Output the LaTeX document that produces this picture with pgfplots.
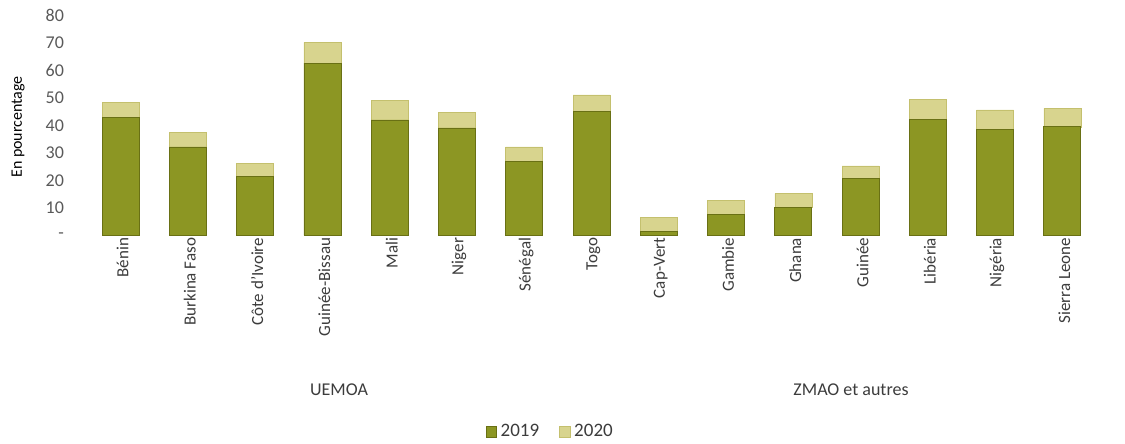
\documentclass[border=0pt]{standalone}
\usepackage{pgfplots}
\usepackage{pgfplotstable}
\pgfplotsset{compat=1.18}
\usepackage{fontspec}
\setmainfont{Carlito}
\definecolor{c2019}{RGB}{140,150,35}
\definecolor{c2019e}{RGB}{105,112,20}
\definecolor{c2020}{RGB}{216,212,142}
\definecolor{c2020e}{RGB}{196,192,110}
\definecolor{tickgray}{RGB}{89,89,89}
\definecolor{labgray}{RGB}{60,60,60}
\pgfplotstableread{
x a b
0 43.0 5.3
1 32.2 5.3
2 21.6 4.6
3 62.7 7.5
4 42.0 7.0
5 39.1 5.7
6 27.0 5.2
7 45.1 6.0
8 1.6 5.1
9 7.6 5.2
10 10.1 5.1
11 20.7 4.6
12 42.3 7.2
13 38.6 7.1
14 39.5 6.7
}\datatable
\begin{document}
\begin{tikzpicture}
\useasboundingbox (0,0) rectangle (562.5pt,222pt);
\begin{axis}[
  at={(43.5pt,104.25pt)}, anchor=south west,
  scale only axis, width=504.5pt, height=110pt,
  ybar stacked, bar width=18.5pt,
  xmin=-0.5, xmax=14.5, ymin=0, ymax=80,
  axis line style={draw=none},
  major tick length=0pt,
  xtick=data,
  xticklabels={Bénin,Burkina Faso,Côte d'Ivoire,Guinée-Bissau,Mali,Niger,Sénégal,Togo,Cap-Vert,Gambie,Ghana,Guinée,Libéria,Nigéria,Sierra Leone},
  xticklabel style={rotate=90, anchor=east, font=\fontsize{8.5}{10}\selectfont, text=labgray, yshift=-1pt, inner sep=1pt},
  ytick={0,10,...,80},
  yticklabels={-,10,20,30,40,50,60,70,80},
  yticklabel style={font=\fontsize{9}{10}\selectfont, text=tickgray, anchor=east, xshift=-8pt},
  legend style={at={(rel axis cs:0.46,-0.893)}, anchor=center, draw=none, legend columns=2,
    font=\fontsize{9.5}{11}\selectfont, text=labgray,
    /tikz/every even column/.append style={column sep=8pt}},
  legend image code/.code={\fill[#1] (0pt,-2.6pt) rectangle (5.2pt,2.6pt);},
]
\addplot[fill=c2019, draw=c2019e, line width=0.4pt] table[x=x,y=a]{\datatable};
\addplot[fill=c2020, draw=c2020e, line width=0.3pt] table[x=x,y=b]{\datatable};
\legend{2019,2020}
\end{axis}
\node[rotate=90, font=\fontsize{8}{10}\selectfont, text=black] at (9pt,158.5pt) {En pourcentage};
\node[font=\fontsize{9}{11}\selectfont, text=labgray] at (169.5pt,27pt) {UEMOA};
\node[font=\fontsize{9}{11}\selectfont, text=labgray] at (425.5pt,27pt) {ZMAO et autres};
\end{tikzpicture}
\end{document}
